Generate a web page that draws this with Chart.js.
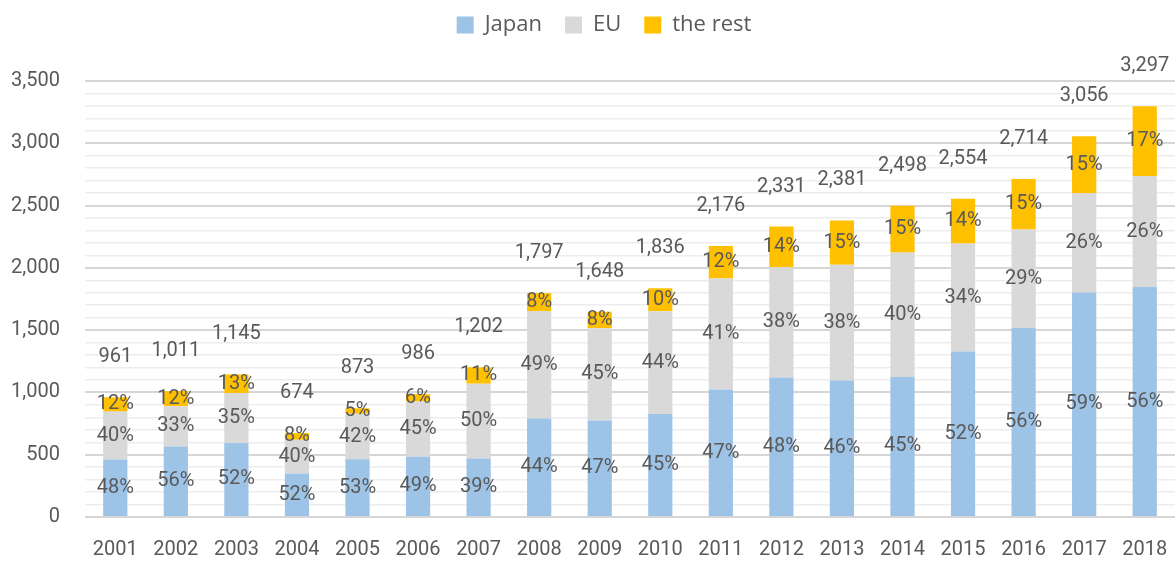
<!DOCTYPE html>
<html>
<head>
<meta charset="utf-8">
<script src="https://cdn.jsdelivr.net/npm/chart.js@4"></script>
<style>
  html, body { margin: 0; padding: 0; background: #fff; }
  #wrap { width: 1176px; height: 566px; }
</style>
</head>
<body>
<div id="wrap"><canvas id="chart"></canvas></div>
<script>
const years = ['2001','2002','2003','2004','2005','2006','2007','2008','2009','2010','2011','2012','2013','2014','2015','2016','2017','2018'];

// segment values
const japan = [461, 566, 595, 350, 463, 483, 469, 791, 775, 826, 1023, 1119, 1095, 1124, 1328, 1520, 1803, 1846];
const eu    = [385, 324, 401, 270, 366, 444, 601, 862, 741, 826, 892, 886, 929, 999, 868, 787, 795, 891];
const rest  = [115, 121, 149, 54, 44, 59, 132, 144, 132, 184, 261, 326, 357, 375, 358, 407, 458, 560];

// labels printed on the chart
const totals   = [961, 1011, 1145, 674, 873, 986, 1202, 1797, 1648, 1836, 2176, 2331, 2381, 2498, 2554, 2714, 3056, 3297];
const japanPct = ['48%','56%','52%','52%','53%','49%','39%','44%','47%','45%','47%','48%','46%','45%','52%','56%','59%','56%'];
const euPct    = ['40%','33%','35%','40%','42%','45%','50%','49%','45%','44%','41%','38%','38%','40%','34%','29%','26%','26%'];
const restPct  = ['12%','12%','13%','8%','5%','6%','11%','8%','8%','10%','12%','14%','15%','15%','14%','15%','15%','17%'];

const textColor = '#595959';
const labelFont = '20px Roboto';

// percentages inside the segments, totals above the stacks
const barLabels = {
  id: 'barLabels',
  afterDatasetsDraw(chart) {
    const ctx = chart.ctx;
    const pcts = [japanPct, euPct, restPct];
    ctx.save();
    ctx.fillStyle = textColor;
    ctx.font = labelFont;
    ctx.textAlign = 'center';
    ctx.textBaseline = 'middle';
    pcts.forEach((list, d) => {
      chart.getDatasetMeta(d).data.forEach((bar, i) => {
        ctx.fillText(list[i], bar.x, (bar.y + bar.base) / 2);
      });
    });
    chart.getDatasetMeta(2).data.forEach((bar, i) => {
      ctx.fillText(totals[i].toLocaleString('en-US'), bar.x, bar.y - 40);
    });
    ctx.restore();
  }
};

// room under the legend, and move it a bit like the original
const legendSpace = {
  id: 'legendSpace',
  beforeInit(chart) {
    const fit = chart.legend.fit;
    chart.legend.fit = function () {
      fit.bind(chart.legend)();
      this.height = 77;
    };
  },
  afterLayout(chart) {
    const lg = chart.legend;
    lg.left += 11;
    lg.right += 11;
    lg.top -= 13;
    lg.bottom -= 13;
  }
};

new Chart(document.getElementById('chart'), {
  type: 'bar',
  data: {
    labels: years,
    datasets: [
      { label: 'Japan', data: japan, backgroundColor: '#9DC3E6' },
      { label: 'EU', data: eu, backgroundColor: '#D9D9D9' },
      { label: 'the rest', data: rest, backgroundColor: '#FFC000' }
    ]
  },
  options: {
    responsive: true,
    maintainAspectRatio: false,
    animation: false,
    layout: { padding: { left: 11, right: 1, top: 4, bottom: 4 } },
    datasets: { bar: { barPercentage: 0.4, categoryPercentage: 1 } },
    plugins: {
      legend: {
        position: 'top',
        labels: {
          color: textColor,
          font: { family: 'Open Sans', size: 22 },
          boxWidth: 17,
          boxHeight: 17,
          padding: 23
        }
      },
      tooltip: { enabled: false }
    },
    scales: {
      x: {
        stacked: true,
        grid: { display: false, drawTicks: false },
        border: { display: false },
        afterFit: s => { s.height = 45; s.paddingLeft = 0; s.paddingRight = 0; },
        ticks: { color: textColor, font: { family: 'Roboto', size: 20 }, padding: 21, maxRotation: 0 }
      },
      y: {
        stacked: true,
        min: 0,
        max: 3500,
        border: { display: false },
        afterFit: s => { s.width = 74; },
        grid: {
          drawTicks: false,
          color: c => (c.tick && c.tick.value % 500 === 0) ? '#d6d6d6' : '#ededed',
          lineWidth: c => (c.tick && c.tick.value % 500 === 0) ? 2 : 1.5
        },
        ticks: {
          stepSize: 100,
          autoSkip: false,
          padding: 25,
          color: textColor,
          font: { family: 'Roboto', size: 20 },
          callback: v => v % 500 === 0 ? v.toLocaleString('en-US') : ''
        }
      }
    }
  },
  plugins: [barLabels, legendSpace]
});
</script>
</body>
</html>
